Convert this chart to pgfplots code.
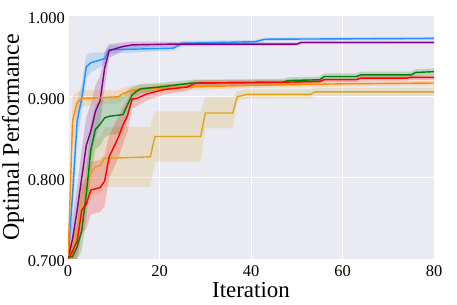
\documentclass[border=0pt]{standalone}
\usepackage{fontspec}
\setmainfont{Liberation Serif}
\usepackage{pgfplots}
\usepackage{pgfplotstable}
\pgfplotsset{compat=1.18}
\usepgfplotslibrary{fillbetween}

\definecolor{cblue}{RGB}{30,144,255}
\definecolor{cpurple}{RGB}{128,0,128}
\definecolor{cgreen}{RGB}{0,128,0}
\definecolor{cred}{RGB}{255,0,0}
\definecolor{corange}{RGB}{255,140,0}
\definecolor{cgold}{RGB}{218,165,32}
\definecolor{bggray}{RGB}{234,234,242}

\pgfplotstableread{
x y lo hi
0 0.700 0.695 0.705
1 0.780 0.750 0.810
2 0.870 0.845 0.895
3 0.898 0.880 0.916
4 0.937 0.922 0.952
5 0.942 0.930 0.954
8 0.947 0.940 0.955
9 0.958 0.953 0.963
23 0.960 0.957 0.963
25 0.966 0.963 0.969
41 0.968 0.966 0.970
43 0.971 0.969 0.973
80 0.972 0.970 0.974
}\blueT

\pgfplotstableread{
x y lo hi
0 0.700 0.690 0.710
1 0.725 0.700 0.750
2 0.760 0.730 0.790
3 0.800 0.765 0.835
4 0.840 0.805 0.875
5 0.858 0.825 0.891
6 0.882 0.850 0.914
7 0.895 0.865 0.925
8 0.935 0.910 0.955
9 0.957 0.948 0.965
12 0.962 0.957 0.967
14 0.964 0.960 0.968
23 0.965 0.962 0.968
50 0.965 0.963 0.967
51 0.967 0.965 0.969
80 0.967 0.965 0.969
}\purpleT

\pgfplotstableread{
x y lo hi
0 0.700 0.690 0.710
1 0.870 0.840 0.900
2 0.893 0.880 0.906
3 0.898 0.888 0.908
11 0.900 0.892 0.908
12 0.904 0.897 0.911
14 0.908 0.902 0.914
16 0.910 0.905 0.915
25 0.912 0.908 0.916
40 0.914 0.911 0.917
60 0.916 0.913 0.919
80 0.917 0.914 0.920
}\orangeT

\pgfplotstableread{
x y lo hi
0 0.700 0.690 0.710
1 0.712 0.695 0.730
2 0.735 0.710 0.760
3 0.775 0.745 0.805
4 0.790 0.760 0.820
5 0.805 0.775 0.835
6 0.814 0.780 0.848
7 0.815 0.780 0.850
8 0.824 0.789 0.863
18 0.826 0.789 0.863
19 0.851 0.820 0.882
29 0.851 0.820 0.882
30 0.880 0.861 0.900
36 0.880 0.861 0.900
37 0.900 0.895 0.907
39 0.903 0.898 0.909
53 0.903 0.898 0.909
54 0.906 0.901 0.911
80 0.906 0.901 0.911
}\goldT

\pgfplotstableread{
x y lo hi
0 0.703 0.695 0.711
1 0.703 0.695 0.711
2 0.715 0.700 0.730
3 0.735 0.710 0.760
4 0.780 0.750 0.810
5 0.835 0.805 0.865
6 0.860 0.835 0.890
7 0.866 0.840 0.895
8 0.874 0.850 0.900
9 0.876 0.853 0.900
12 0.878 0.855 0.901
13 0.890 0.872 0.908
14 0.902 0.892 0.912
15 0.907 0.900 0.914
16 0.910 0.904 0.916
20 0.912 0.907 0.917
27 0.917 0.913 0.921
47 0.918 0.914 0.922
48 0.920 0.916 0.924
55 0.921 0.917 0.925
56 0.925 0.921 0.929
63 0.925 0.921 0.929
64 0.927 0.923 0.931
75 0.927 0.923 0.931
76 0.930 0.926 0.934
80 0.931 0.927 0.935
}\greenT

\pgfplotstableread{
x y lo hi
0 0.700 0.690 0.710
1 0.710 0.695 0.725
2 0.722 0.700 0.745
3 0.760 0.730 0.790
4 0.768 0.738 0.800
5 0.785 0.755 0.820
7 0.788 0.758 0.822
8 0.796 0.765 0.828
9 0.826 0.800 0.852
10 0.838 0.812 0.864
11 0.850 0.825 0.875
12 0.865 0.842 0.888
13 0.877 0.857 0.897
14 0.897 0.885 0.909
15 0.898 0.888 0.908
17 0.903 0.895 0.911
19 0.906 0.899 0.913
21 0.909 0.903 0.915
26 0.912 0.907 0.917
28 0.917 0.913 0.921
47 0.918 0.915 0.921
55 0.919 0.916 0.922
56 0.921 0.918 0.924
63 0.921 0.918 0.924
64 0.923 0.920 0.926
74 0.923 0.920 0.926
75 0.924 0.921 0.927
80 0.924 0.921 0.927
}\redT

\begin{document}
\begin{tikzpicture}
\begin{axis}[
  at={(0,0)}, anchor=south west,
  scale only axis,
  width=366bp, height=243.3bp,
  xmin=0, xmax=80, ymin=0.7, ymax=1.0,
  xtick={0,20,40,60,80},
  ytick={0.7,0.8,0.9,1.0},
  yticklabel style={/pgf/number format/.cd, fixed, fixed zerofill, precision=3, /tikz/.cd},
  /pgf/number format/assume math mode=true,
  axis background/.style={fill=bggray},
  axis line style={draw=none},
  major tick length=0pt,
  grid=major,
  major grid style={white, line width=1bp},
  tick label style={font=\fontsize{16.5}{18}\selectfont},
  yticklabel style={anchor=east, inner sep=0pt, xshift=-3bp, yshift=-2bp},
  xticklabel style={anchor=north, inner sep=0pt, yshift=-6bp},
  xlabel={Iteration},
  ylabel={Optimal Performance},
  xlabel style={font=\fontsize{23}{26}\selectfont, at={(axis description cs:0.5,-0.1562)}, anchor=base},
  ylabel style={font=\fontsize{24}{27}\selectfont, at={(axis description cs:-0.1339,0.5)}, anchor=base},
]
% bands
\addplot[name path=bU, draw=none, forget plot] table[x=x,y=hi]{\blueT};
\addplot[name path=bL, draw=none, forget plot] table[x=x,y=lo]{\blueT};
\addplot[cblue, fill opacity=0.2, draw=none, forget plot] fill between[of=bU and bL];
\addplot[name path=pU, draw=none, forget plot] table[x=x,y=hi]{\purpleT};
\addplot[name path=pL, draw=none, forget plot] table[x=x,y=lo]{\purpleT};
\addplot[cpurple, fill opacity=0.2, draw=none, forget plot] fill between[of=pU and pL];
\addplot[name path=oU, draw=none, forget plot] table[x=x,y=hi]{\orangeT};
\addplot[name path=oL, draw=none, forget plot] table[x=x,y=lo]{\orangeT};
\addplot[corange, fill opacity=0.2, draw=none, forget plot] fill between[of=oU and oL];
\addplot[name path=gU, draw=none, forget plot] table[x=x,y=hi]{\goldT};
\addplot[name path=gL, draw=none, forget plot] table[x=x,y=lo]{\goldT};
\addplot[cgold, fill opacity=0.2, draw=none, forget plot] fill between[of=gU and gL];
\addplot[name path=grU, draw=none, forget plot] table[x=x,y=hi]{\greenT};
\addplot[name path=grL, draw=none, forget plot] table[x=x,y=lo]{\greenT};
\addplot[cgreen, fill opacity=0.2, draw=none, forget plot] fill between[of=grU and grL];
\addplot[name path=rU, draw=none, forget plot] table[x=x,y=hi]{\redT};
\addplot[name path=rL, draw=none, forget plot] table[x=x,y=lo]{\redT};
\addplot[cred, fill opacity=0.2, draw=none, forget plot] fill between[of=rU and rL];
% lines
\addplot[cblue, line width=1.4bp, no marks] table[x=x,y=y]{\blueT};
\addplot[cpurple, line width=1.4bp, no marks] table[x=x,y=y]{\purpleT};
\addplot[corange, line width=1.4bp, no marks] table[x=x,y=y]{\orangeT};
\addplot[cgold, line width=1.4bp, no marks] table[x=x,y=y]{\goldT};
\addplot[cgreen, line width=1.4bp, no marks] table[x=x,y=y]{\greenT};
\addplot[cred, line width=1.4bp, no marks] table[x=x,y=y]{\redT};
\end{axis}
\pgfresetboundingbox
\path[use as bounding box] (-68bp,-46bp) rectangle (389bp,259bp);
\end{tikzpicture}
\end{document}
